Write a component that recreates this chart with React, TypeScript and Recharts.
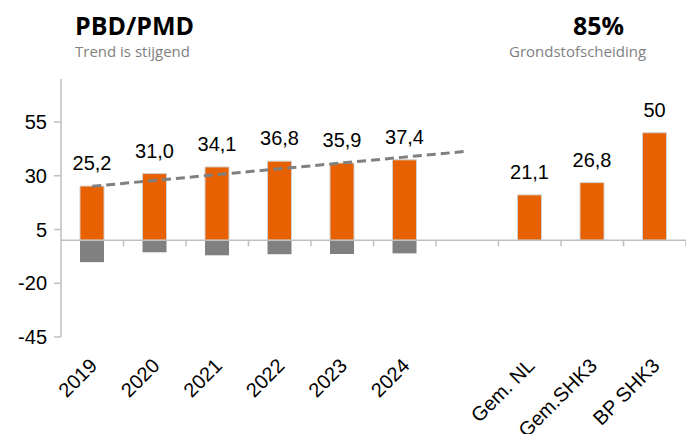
import {
  ComposedChart,
  Bar,
  Line,
  XAxis,
  YAxis,
  LabelList,
  ReferenceLine,
} from "recharts";

const categories = [
  "2019",
  "2020",
  "2021",
  "2022",
  "2023",
  "2024",
  "",
  "Gem. NL",
  "Gem.SHK3",
  "BP SHK3",
];

// oranje staven (kg/inw)
const positiveValues = [25.2, 31.0, 34.1, 36.8, 35.9, 37.4, null, 21.1, 26.8, 50];
// grijze staven onder de nullijn
const negativeValues = [-10.2, -5.6, -7.0, -6.5, -6.4, -6.1, null, null, null, null];
const trendValues = [25.1, null, null, null, null, null, 41.4, null, null, null];

const valueLabels = ["25,2", "31,0", "34,1", "36,8", "35,9", "37,4", "", "21,1", "26,8", "50"];

const yTicks = [-45, -20, 5, 30, 55];

const ORANGE = "#E86100";
const GREY = "#808080";
const AXIS = "#BFBFBF";
const FONT = "'Liberation Sans', Arial, sans-serif";

const chartData = categories.map((name, i) => ({
  name,
  pos: positiveValues[i],
  neg: negativeValues[i],
  trend: trendValues[i],
  label: valueLabels[i],
}));

// x-as labels schuin onder de grafiek
function AngledTick(props: any) {
  const { x, y, payload } = props;
  const ax = x + 6;
  const ay = y + 22;
  return (
    <text
      x={ax}
      y={ay}
      transform={`rotate(-45, ${ax}, ${ay})`}
      textAnchor="end"
      fontSize={20}
      fontFamily={FONT}
      fill="#000"
    >
      {payload.value}
    </text>
  );
}

// nullijn met streepjes tussen de categorieen
function ZeroLine(props: any) {
  const { x1, x2, y1 } = props;
  const step = (x2 - x1) / categories.length;
  return (
    <g>
      <line x1={x1} x2={x2} y1={y1} y2={y1} stroke={AXIS} strokeWidth={1.5} />
      {categories.map((_, i) => (
        <line
          key={`t-${i}`}
          x1={x1 + step * (i + 1)}
          x2={x1 + step * (i + 1)}
          y1={y1}
          y2={y1 + 6}
          stroke={AXIS}
          strokeWidth={1.5}
        />
      ))}
    </g>
  );
}

export default function App() {
  return (
    <div
      style={{
        position: "absolute",
        left: 0,
        top: 0,
        width: 686,
        height: 434,
        background: "#fff",
        fontFamily: "'Open Sans', sans-serif",
      }}
    >
      <div
        style={{ position: "absolute", left: 75, top: 13, fontSize: 25, lineHeight: 1, fontWeight: 700, color: "#000" }}
      >
        PBD/PMD
      </div>
      <div style={{ position: "absolute", left: 75, top: 44, fontSize: 15, lineHeight: 1, color: GREY }}>
        Trend is stijgend
      </div>
      <div
        style={{ position: "absolute", left: 573, top: 13, fontSize: 25, lineHeight: 1, fontWeight: 700, color: "#000" }}
      >
        85%
      </div>
      <div style={{ position: "absolute", left: 509, top: 44, fontSize: 15, lineHeight: 1, color: GREY }}>
        Grondstofscheiding
      </div>

      <ComposedChart
        width={686}
        height={434}
        data={chartData}
        stackOffset="sign"
        margin={{ top: 79, right: 0, left: 0, bottom: 0 }}
      >
        <XAxis
          dataKey="name"
          interval={0}
          axisLine={false}
          tickLine={false}
          height={97}
          tick={<AngledTick />}
        />
        <YAxis
          width={61}
          domain={[-45, 75]}
          ticks={yTicks}
          interval={0}
          axisLine={{ stroke: AXIS, strokeWidth: 1.5 }}
          tickLine={{ stroke: AXIS, strokeWidth: 1.5 }}
          tickSize={7}
          tickMargin={7}
          tick={{ fill: "#000", fontSize: 20, fontFamily: FONT }}
        />
        <Bar
          dataKey="pos"
          stackId="a"
          barSize={24}
          fill={ORANGE}
          stroke="#D0D0D0"
          strokeWidth={1}
          isAnimationActive={false}
        >
          <LabelList
            dataKey="label"
            position="top"
            offset={16}
            fill="#000"
            fontSize={20}
            fontFamily={FONT}
          />
        </Bar>
        <Bar dataKey="neg" stackId="a" barSize={24} fill={GREY} isAnimationActive={false} />
        <ReferenceLine y={0} shape={<ZeroLine />} />
        <Line
          dataKey="trend"
          connectNulls
          dot={false}
          activeDot={false}
          stroke={GREY}
          strokeWidth={3}
          strokeDasharray="9 5"
          isAnimationActive={false}
        />
      </ComposedChart>
    </div>
  );
}
